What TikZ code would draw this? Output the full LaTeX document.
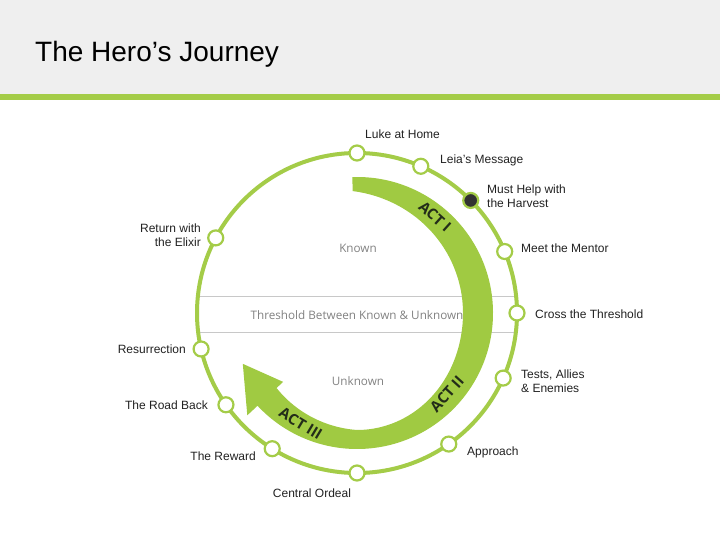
\documentclass[tikz,border=0pt]{standalone}
\usepackage{fontspec}
\setmainfont{Liberation Sans}
\newfontfamily\opensans{Open Sans}
\usetikzlibrary{calc}
\definecolor{jgreen}{RGB}{164,204,72}
\definecolor{bandgreen}{RGB}{160,202,66}
\definecolor{titlebg}{RGB}{239,239,239}
\definecolor{labelcol}{RGB}{34,34,34}
\definecolor{softgray}{RGB}{130,130,130}
\definecolor{linegray}{RGB}{200,200,200}
\definecolor{actcol}{RGB}{35,45,25}
\definecolor{darkdot}{RGB}{50,50,50}
\begin{document}
\begin{tikzpicture}[x=1pt,y=1pt,
  stage/.style={circle, draw=jgreen, fill=white, line width=2.2pt, minimum size=15pt, inner sep=0pt},
  lbl/.style={font=\fontsize{12}{14}\selectfont, text=labelcol, inner sep=0pt},
  zone/.style={font=\opensans\fontsize{11.7}{13.5}\selectfont, text=softgray, inner sep=0pt},
  act/.style={font=\opensans\bfseries\fontsize{15}{17}\selectfont, text=actcol, inner sep=0pt}]
\useasboundingbox (0,0) rectangle (720,-540);
\fill[white] (0,0) rectangle (720,-540);
% title bar
\fill[titlebg] (0,0) rectangle (720,-94);
\fill[jgreen] (0,-94) rectangle (720,-100);
\node[anchor=west, inner sep=0pt, font=\fontsize{28}{32}\selectfont, text=black] (title) at (35,-54) {The Hero’s Journey};
\coordinate (C) at (357,-313);
% threshold band lines
\coordinate (t1l) at (198,-296); \coordinate (t1r) at (516,-296);
\coordinate (t2l) at (198,-332); \coordinate (t2r) at (516,-332);
\draw[linegray, line width=1pt] (t1l) -- (t1r);
\draw[linegray, line width=1pt] (t2l) -- (t2r);
\node[zone] (thr) at (357,-315) {Threshold Between Known \& Unknown};
\node[zone] (known) at (358,-248) {Known};
\node[zone] (unknown) at (358,-381) {Unknown};
% outer circle
\draw[jgreen, line width=4pt] (C) circle[radius=160];
% inner tapering arrow band
\fill[bandgreen]
  ($(C)+(92:136)$) arc[start angle=92, end angle=-137, radius=136]
  -- ($(C)+(-137:150)$) -- ($(C)+(204:125)$) -- ($(C)+(-137:101)$) -- ($(C)+(-137:110)$)
  -- plot[domain=-137:-90, samples=20, smooth] ({357+(117-(-90-\x)*0.149)*cos(\x)}, {-313+(117-(-90-\x)*0.149)*sin(\x)})
  -- plot[domain=-90:0, samples=30, smooth] ({357+(106+11*sin(\x)*sin(\x))*cos(\x)}, {-313+(106+11*sin(\x)*sin(\x))*sin(\x)})
  -- plot[domain=0:92, samples=40, smooth] ({357+(106+18.9*(\x/100)*(\x/100))*cos(\x)}, {-313+(106+18.9*(\x/100)*(\x/100))*sin(\x)})
  -- cycle;
\node[act, rotate=-42] (act1) at ($(C)+(51:124)$) {ACT I};
\node[act, rotate=48] (act2) at ($(C)+(-42:121)$) {ACT II};
\node[act, rotate=-31] (act3) at ($(C)+(243:124)$) {ACT III};
% stages
\node[stage] (luke) at ($(C)+(90:160)$) {};
\node[stage] (leia) at ($(C)+(66.5:160)$) {};
\node[stage, fill=darkdot] (harvest) at ($(C)+(44.7:160)$) {};
\node[stage] (mentor) at ($(C)+(22.6:160)$) {};
\node[stage] (cross) at ($(C)+(0:160)$) {};
\node[stage] (tests) at ($(C)+(-24:160)$) {};
\node[stage] (approach) at ($(C)+(-55:160)$) {};
\node[stage] (ordeal) at ($(C)+(-90:160)$) {};
\node[stage] (reward) at ($(C)+(-122:160)$) {};
\node[stage] (roadback) at ($(C)+(-145:160)$) {};
\node[stage] (resur) at ($(C)+(-167:160)$) {};
\node[stage] (elixir) at ($(C)+(152:160)$) {};
% labels
\node[lbl, anchor=west] (lluke) at (365,-134) {Luke at Home};
\node[lbl, anchor=west] (lleia) at (440,-160) {Leia's Message};
\node[lbl, anchor=west, align=left] (lharvest) at (487,-196) {Must Help with\\the Harvest};
\node[lbl, anchor=west] (lmentor) at (521,-248) {Meet the Mentor};
\node[lbl, anchor=west] (lcross) at (535,-314) {Cross the Threshold};
\node[lbl, anchor=west, align=left] (ltests) at (521,-381) {Tests, Allies\\\& Enemies};
\node[lbl, anchor=west] (lapproach) at (467,-452) {Approach};
\node[lbl] (lordeal) at (312,-493) {Central Ordeal};
\node[lbl, anchor=east] (lreward) at (256,-456) {The Reward};
\node[lbl, anchor=east] (lroad) at (208,-405) {The Road Back};
\node[lbl, anchor=east] (lresur) at (186,-349) {Resurrection};
\node[lbl, anchor=east, align=right] (lelixir) at (201,-235) {Return with\\the Elixir};
\end{tikzpicture}
\end{document}
